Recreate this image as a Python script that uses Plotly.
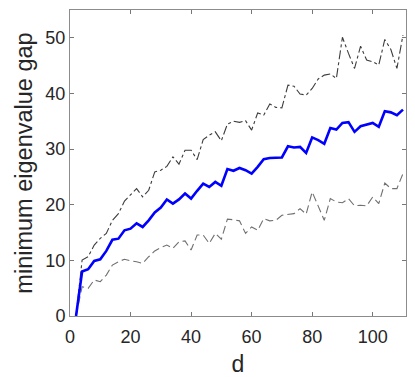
import plotly.graph_objects as go

d = list(range(2, 111, 2))

mean_gap = [0, 8.0, 8.4, 9.9, 10.2, 11.7, 13.7, 13.9, 15.4, 15.7,
            16.65, 16.0, 17.2, 18.6, 19.5, 20.95, 20.2, 20.95, 22.0, 21.1,
            22.5, 23.8, 23.2, 24.1, 23.4, 26.4, 26.1, 26.6, 26.2, 25.6,
            26.8, 28.2, 28.4, 28.4, 28.5, 30.5, 30.3, 30.4, 29.3, 32.1,
            31.6, 30.95, 33.8, 33.5, 34.7, 34.85, 33.1, 34.1, 34.4, 34.7,
            34.0, 36.8, 36.6, 36.1, 37.1]

upper_gap = [0, 10.06, 10.65, 12.75, 13.95, 14.85, 17.2, 18.4, 20.65, 21.7,
             22.9, 21.4, 22.6, 25.9, 26.2, 26.9, 28.6, 27.3, 29.8, 29.8,
             28.1, 31.7, 32.5, 33.1, 31.5, 34.5, 35.0, 34.8, 35.1, 33.4,
             36.5, 36.1, 38.1, 37.5, 37.4, 41.5, 41.3, 39.9, 39.7, 40.9,
             42.6, 43.3, 43.5, 42.7, 50.1, 47.2, 44.5, 48.5, 46.0, 45.7,
             45.1, 49.7, 47.9, 44.5, 50.5]

lower_gap = [0, 5.27, 4.97, 6.47, 6.16, 7.36, 9.16, 9.76, 10.2, 9.9,
             9.76, 9.46, 10.65, 11.7, 12.3, 12.75, 12.15, 13.35, 13.5, 11.85,
             14.55, 14.55, 13.05, 14.85, 13.8, 17.4, 17.3, 17.1, 14.85, 16.0,
             15.4, 17.5, 17.1, 17.2, 18.1, 18.2, 18.4, 19.3, 18.3, 22.3,
             19.6, 17.2, 21.1, 20.5, 20.35, 21.1, 19.8, 19.9, 19.8, 21.4,
             20.2, 23.9, 22.9, 22.9, 25.6]

FONT = "Liberation Sans, Arial, sans-serif"

fig = go.Figure()
fig.add_trace(go.Scatter(x=d, y=upper_gap, mode="lines",
                         line=dict(color="#3c3c3c", width=1.1, dash="dashdot"),
                         showlegend=False))
fig.add_trace(go.Scatter(x=d, y=lower_gap, mode="lines",
                         line=dict(color="#707070", width=1.1, dash="8px,4px"),
                         showlegend=False))
fig.add_trace(go.Scatter(x=d, y=mean_gap, mode="lines",
                         line=dict(color="#0000ff", width=2.6),
                         showlegend=False))

axis_common = dict(showline=True, linecolor="#8c8c8c", linewidth=1,
                   mirror="allticks", ticks="inside", ticklen=4,
                   tickcolor="#777777", showgrid=False, zeroline=False,
                   automargin=False,
                   tickfont=dict(family=FONT, size=18, color="#262626"))

fig.update_layout(
    width=415, height=377,
    margin=dict(l=70, r=9, t=10, b=61),
    plot_bgcolor="white", paper_bgcolor="white",
    xaxis=dict(range=[0, 111], tickvals=[0, 20, 40, 60, 80, 100],
               ticklabelstandoff=4,
               title=dict(text="d", standoff=10,
                          font=dict(family=FONT, size=23, color="#262626")),
               **axis_common),
    yaxis=dict(range=[0, 55], tickvals=[0, 10, 20, 30, 40, 50],
               title=dict(text="minimum eigenvalue gap", standoff=6,
                          font=dict(family=FONT, size=23.5, color="#262626")),
               **axis_common),
)

fig.write_html("out.html", config={"displayModeBar": False},
               post_script="document.body.style.margin='0';document.body.style.overflow='hidden';")
